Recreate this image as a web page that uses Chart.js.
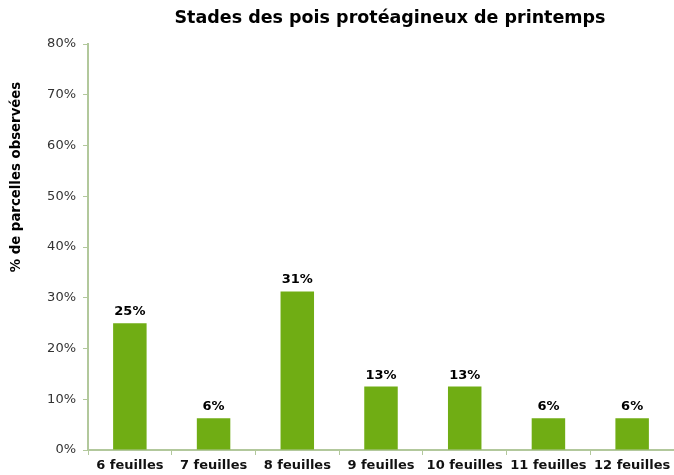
<!DOCTYPE html>
<html>
<head>
<meta charset="utf-8">
<script src="https://cdn.jsdelivr.net/npm/chart.js@4/dist/chart.umd.min.js"></script>
<style>
  html, body { margin: 0; padding: 0; background: #fff; }
  #wrap { width: 674px; height: 475px; }
</style>
</head>
<body>
<div id="wrap"><canvas id="chart"></canvas></div>
<script>
// data
const categories = ['6 feuilles', '7 feuilles', '8 feuilles', '9 feuilles', '10 feuilles', '11 feuilles', '12 feuilles'];
const values = [25, 6.25, 31.25, 12.5, 12.5, 6.25, 6.25];
const yTicks = [0, 10, 20, 30, 40, 50, 60, 70, 80];

const titleText = 'Stades des pois protéagineux de printemps';
const yTitleText = '% de parcelles observées';

const barColor = '#70ad14';
const axisColor = '#b2c89c';
const textColor = '#333333';
const fontFamily = '"DejaVu Sans", Verdana, sans-serif';

// title, y axis title and value labels
const decorPlugin = {
    id: 'decor',
    afterDraw: function(chart) {
        const ctx = chart.ctx;
        ctx.save();
        ctx.fillStyle = '#000';
        ctx.textAlign = 'center';
        ctx.textBaseline = 'middle';
        ctx.font = 'bold 17.5px ' + fontFamily;
        ctx.fillText(titleText, 390, 18);

        ctx.save();
        ctx.translate(17, 177);
        ctx.rotate(-Math.PI / 2);
        ctx.font = 'bold 13.3px ' + fontFamily;
        ctx.fillText(yTitleText, 0, 0);
        ctx.restore();

        ctx.font = 'bold 13px ' + fontFamily;
        ctx.textBaseline = 'alphabetic';
        const meta = chart.getDatasetMeta(0);
        meta.data.forEach((bar, i) => {
            ctx.fillText(Math.round(values[i]) + '%', bar.x, bar.y - 8);
        });
        ctx.restore();
    }
};

new Chart(document.getElementById('chart').getContext('2d'), {
    type: 'bar',
    data: {
        labels: categories,
        datasets: [{
            data: values,
            backgroundColor: barColor,
            borderWidth: 0,
            categoryPercentage: 1,
            barPercentage: 0.4
        }]
    },
    options: {
        responsive: true,
        maintainAspectRatio: false,
        animation: false,
        layout: { padding: { top: 44, right: -3, bottom: 0, left: 0 } },
        plugins: {
            legend: { display: false },
            tooltip: { enabled: false }
        },
        scales: {
            x: {
                offset: true,
                afterFit: function(scale) { scale.height = 25; },
                grid: { offset: true, drawOnChartArea: false, drawTicks: true, tickLength: 5, color: axisColor },
                border: { color: axisColor, width: 2 },
                ticks: { color: '#111', padding: 3, font: { family: fontFamily, size: 13, weight: 'bold' }, maxRotation: 0, autoSkip: false }
            },
            y: {
                min: 0,
                max: 80,
                afterFit: function(scale) { scale.width = 88; },
                afterBuildTicks: function(scale) { scale.ticks = yTicks.map(v => ({ value: v })); },
                grid: { drawOnChartArea: false, drawTicks: true, tickLength: 5, color: axisColor },
                border: { color: axisColor, width: 2 },
                ticks: {
                    color: textColor,
                    padding: 7,
                    font: { family: fontFamily, size: 13 },
                    callback: v => v + '%'
                }
            }
        }
    },
    plugins: [decorPlugin]
});
</script>
</body>
</html>
